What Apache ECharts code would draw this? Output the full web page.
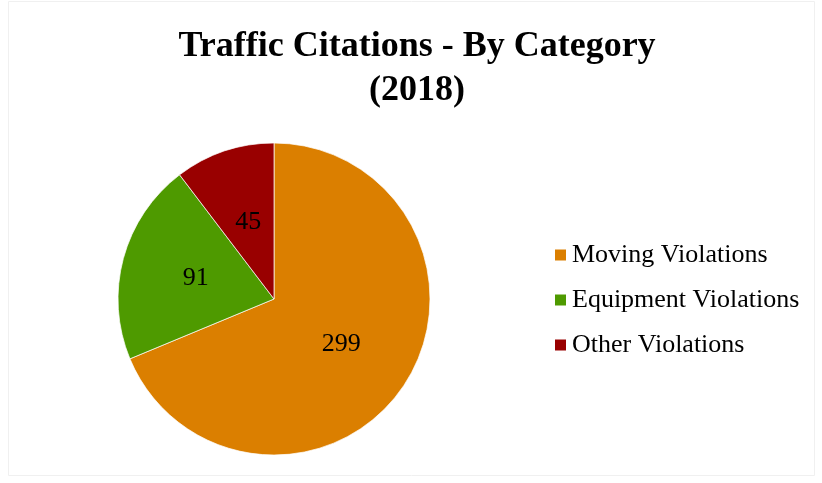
<!DOCTYPE html>
<html><head><meta charset="utf-8">
<script src="https://cdn.jsdelivr.net/npm/echarts@6/dist/echarts.min.js"></script>
<style>html,body{margin:0;padding:0;background:#fff}#c{width:822px;height:483px}</style>
</head><body><div id="c"></div>
<script>
const categories = ["Moving Violations", "Equipment Violations", "Other Violations"];
const values = [299, 91, 45];
const colors = ["#DB7F00", "#4E9A00", "#990000"];
const titleText = "Traffic Citations - By Category\n(2018)";

const chart = echarts.init(document.getElementById('c'));
const serif = "'Liberation Serif','Times New Roman',serif";
chart.setOption({
  backgroundColor: '#fff',
  animation: false,
  graphic: [{
    type: 'rect', shape: {x: 8.5, y: 1.5, width: 806, height: 474},
    style: {fill: 'none', stroke: '#f0f0f0', lineWidth: 1}, silent: true
  }],
  title: {
    text: titleText, left: 412, top: 20, textAlign: 'center',
    textStyle: {fontFamily: serif, fontWeight: 'bold', fontSize: 36, color: '#000', lineHeight: 44}
  },
  legend: {
    orient: 'vertical', left: 548, top: 237, itemWidth: 13, itemHeight: 13, itemGap: 19,
    icon: 'rect',
    textStyle: {fontFamily: serif, fontSize: 26, color: '#000', lineHeight: 26},
    data: categories
  },
  series: [{
    type: 'pie', center: [274, 299], radius: [0, 156], startAngle: 90, clockwise: true,
    itemStyle: {borderColor: '#fff', borderWidth: 0.7},
    label: {position: 'inside', formatter: '{c}', fontFamily: serif, fontSize: 26, color: '#000'},
    labelLine: {show: false},
    data: categories.map((n, i) => ({name: n, value: values[i], itemStyle: {color: colors[i]}}))
  }]
});
</script></body></html>
